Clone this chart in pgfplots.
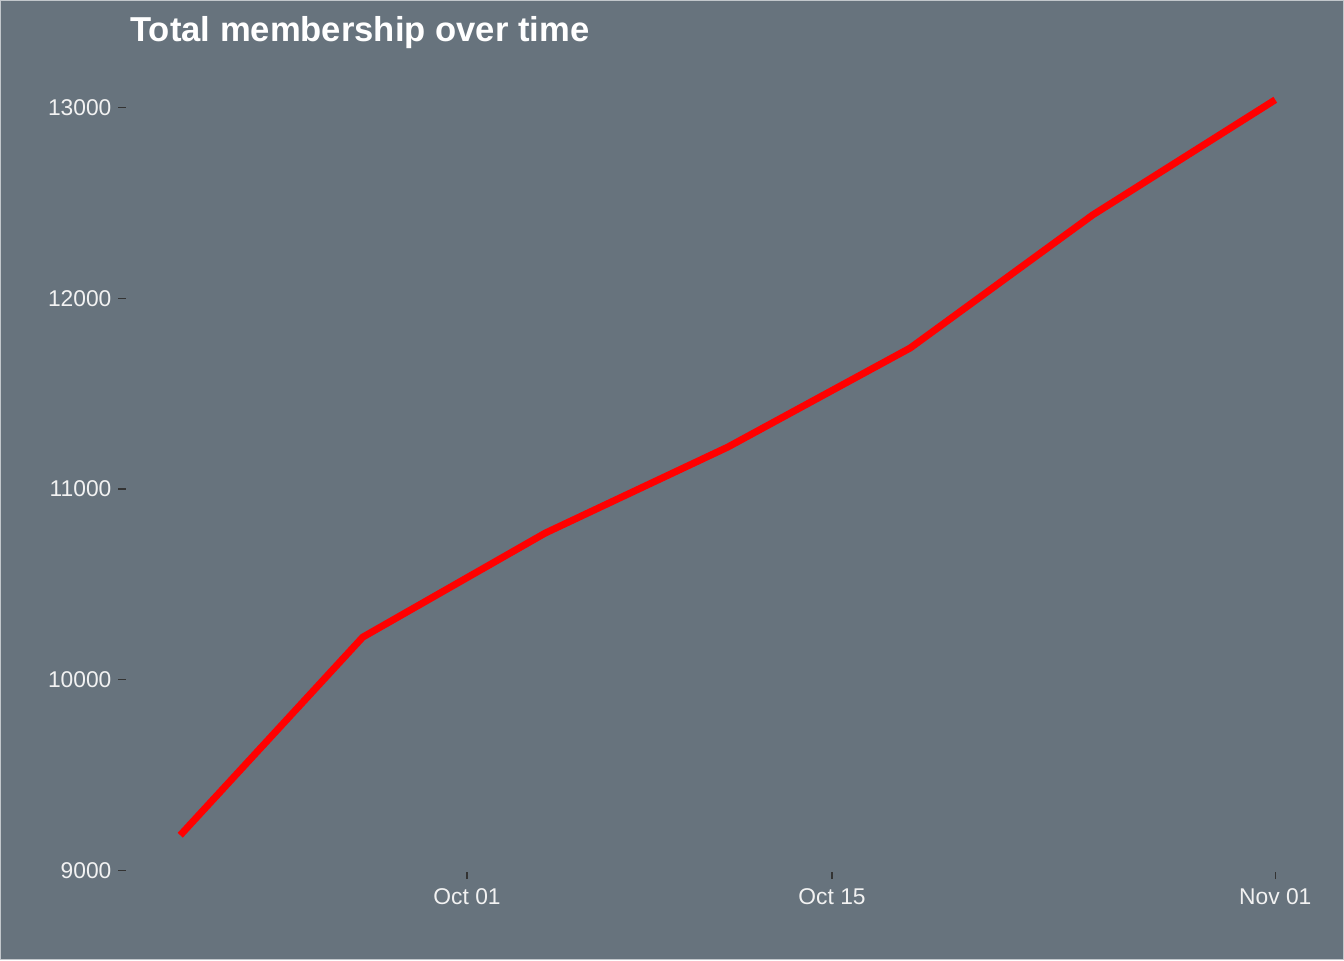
\documentclass[border=0pt]{standalone}
\usepackage{pgfplots}
\pgfplotsset{compat=1.18}
\usepackage{fontspec}
\setmainfont{Liberation Sans}
\definecolor{bg}{RGB}{103,115,125}
\definecolor{tickc}{RGB}{51,51,51}
\begin{document}
\begin{tikzpicture}[x=1pt,y=1pt]
\fill[bg] (0,0) rectangle (672,480);
\draw[white!60!bg, line width=0.6pt] (0.3,0.3) rectangle (671.7,479.7);
\useasboundingbox (0,0) rectangle (672,480);
\begin{axis}[
  at={(62.75pt,44pt)}, anchor=south west, scale only axis,
  width=602.25pt, height=404.5pt,
  xmin=-13.1, xmax=33.1, ymin=8991, ymax=13235,
  axis line style={draw=none},
  xtick={0,14,31}, xticklabels={Oct 01,Oct 15,Nov 01},
  ytick={9000,10000,11000,12000,13000},
  scaled y ticks=false,
  tick align=outside, major tick length=3.5pt,
  tick style={tickc, line width=0.6pt},
  xtick pos=bottom, ytick pos=left,
  /pgf/number format/assume math mode=true,
  yticklabel style={/pgf/number format/1000 sep={}, /pgf/number format/fixed, font=\fontsize{11.4}{14}\selectfont, text=white!95!black},
  xticklabel style={font=\fontsize{11.4}{14}\selectfont, text=white!95!black, yshift=-1.5pt},
  clip=false,
]
\addplot[red, line width=3.5pt, line join=round, line cap=butt] coordinates {
(-11,9184) (-4,10223) (3,10769) (10,11220) (17,11740) (24,12438) (31,13042)
};
\end{axis}
\node[anchor=base west, font=\bfseries\fontsize{17.3}{21}\selectfont, text=white, inner sep=0pt] at (65,459) {Total membership over time};
\end{tikzpicture}
\end{document}
